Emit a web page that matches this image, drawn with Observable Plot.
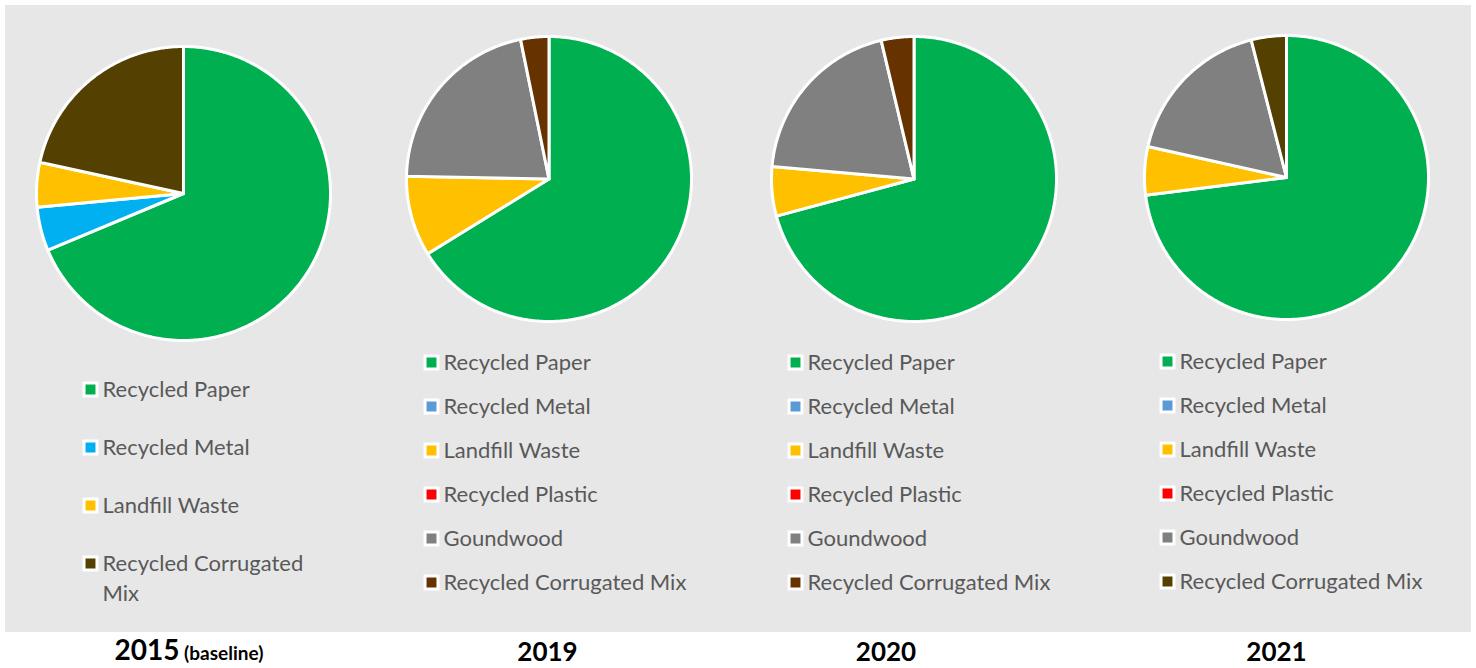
<!DOCTYPE html>
<html>
<head>
<meta charset="utf-8">
<script src="https://cdn.jsdelivr.net/npm/d3@7"></script>
<script src="https://cdn.jsdelivr.net/npm/@observablehq/plot@0.6"></script>
<style>
  body { margin: 0; background: #ffffff; }
  #stage { position: relative; width: 1476px; height: 668px; overflow: hidden; font-family: Lato, "Open Sans", sans-serif; }
  #bg { position: absolute; left: 5px; top: 5px; width: 1466px; height: 627px; background: #e7e7e7; }
  .abs { position: absolute; }
  .label { position: absolute; transform: translateX(-50%); font-weight: 700; color: #000; white-space: nowrap; line-height: 1; }
</style>
</head>
<body>
<div id="stage"><div id="bg"></div></div>
<script>
// ---------- data ----------
const years = ["2015", "2019", "2020", "2021"];
const categories2015 = ["Recycled Paper", "Recycled Metal", "Landfill Waste", "Recycled Corrugated Mix"];
const categoriesLater = ["Recycled Paper", "Recycled Metal", "Landfill Waste", "Recycled Plastic", "Goundwood", "Recycled Corrugated Mix"];

const values2015 = [68.7, 4.8, 4.9, 21.6];
const values2019 = [66.2, 0, 9.1, 0, 21.5, 3.2];
const values2020 = [70.8, 0, 5.6, 0, 19.9, 3.7];
const values2021 = [73.0, 0, 5.5, 0, 17.5, 4.0];

const colors2015 = ["#00b050", "#00b0f0", "#ffc000", "#544000"];
const colors2019 = ["#00b050", "#5b9bd5", "#ffc000", "#ff0000", "#808080", "#663300"];
const colors2020 = ["#00b050", "#5b9bd5", "#ffc000", "#ff0000", "#808080", "#663300"];
const colors2021 = ["#00b050", "#5b9bd5", "#ffc000", "#ff0000", "#808080", "#544000"];

const yearTitles = ["2015", "2019", "2020", "2021"];
const yearNotes = ["(baseline)", "", "", ""];

// ---------- layout ----------
const layout = [
  {cats: categories2015, vals: values2015, cols: colors2015, cx: 182.5, cy: 193.3, r: 147,
   lgLeft: 80, lgTop: 358, lgH: 250, lgMt: 30, lgMb: 45, wrap: true, labX: 189, labTop: 635, labSize: 28},
  {cats: categoriesLater, vals: values2019, cols: colors2019, cx: 548.8, cy: 178.6, r: 142.5,
   lgLeft: 421, lgTop: 338, lgH: 280, lgMt: 22, lgMb: 34, wrap: false, labX: 547.5, labTop: 638, labSize: 26},
  {cats: categoriesLater, vals: values2020, cols: colors2020, cx: 913, cy: 178.4, r: 142.5,
   lgLeft: 785, lgTop: 338, lgH: 280, lgMt: 22, lgMb: 34, wrap: false, labX: 886, labTop: 638, labSize: 26},
  {cats: categoriesLater, vals: values2021, cols: colors2021, cx: 1286, cy: 177.4, r: 142,
   lgLeft: 1156.5, lgTop: 337, lgH: 280, lgMt: 22, lgMb: 34, wrap: false, labX: 1276.5, labTop: 638, labSize: 26}
];

const stage = document.getElementById("stage");
const FS = 22;

function piePlot(cats, vals, cols, R) {
  const arcs = d3.pie().sort(null).value(d => d.value)(cats.map((c, i) => ({category: c, value: vals[i]})));
  const features = arcs.filter(a => a.data.value > 0).map(a => {
    const n = Math.max(2, Math.ceil((a.endAngle - a.startAngle) / (Math.PI / 360)));
    const ring = [[0, 0]];
    for (let k = 0; k <= n; k++) {
      const t = a.startAngle + (a.endAngle - a.startAngle) * k / n;
      ring.push([Math.sin(t), -Math.cos(t)]);
    }
    ring.push([0, 0]);
    return {type: "Feature", properties: {category: a.data.category}, geometry: {type: "Polygon", coordinates: [ring]}};
  });
  const size = 2 * R + 6;
  return Plot.plot({
    width: size, height: size, margin: 0,
    projection: {type: "identity", domain: {type: "MultiPoint", coordinates: [[-1, -1], [1, 1]]}, inset: 3},
    color: {domain: cats, range: cols},
    style: {background: "transparent", overflow: "visible"},
    marks: [
      Plot.geo(features, {fill: d => d.properties.category, stroke: "white", strokeWidth: 3, strokeLinejoin: "round"})
    ]
  });
}

function legendPlot(cats, cols, L) {
  return Plot.plot({
    width: 340, height: L.lgH, marginTop: L.lgMt, marginBottom: L.lgMb, marginLeft: 10, marginRight: 0,
    y: {type: "point", domain: cats, padding: 0, axis: null},
    color: {domain: cats, range: cols},
    style: {background: "transparent", overflow: "visible", fontFamily: "Lato, 'Open Sans', sans-serif", fontSize: FS + "px"},
    marks: [
      Plot.dot(cats, {y: d => d, fill: d => d, frameAnchor: "left", symbol: "square", r: 7.3, stroke: "white", strokeWidth: 3}),
      Plot.text(cats, {y: d => d, text: d => (L.wrap ? d.replace(" Mix", "\nMix") : d), frameAnchor: "left", dx: 12, textAnchor: "start",
        lineAnchor: "top", dy: -0.39 * FS - 5, fill: "#595959", fontSize: FS, lineHeight: 1.36})
    ]
  });
}

layout.forEach((L, i) => {
  const p = piePlot(L.cats, L.vals, L.cols, L.r);
  const size = 2 * L.r + 6;
  p.classList.add("abs");
  p.style.left = (L.cx - size / 2) + "px";
  p.style.top = (L.cy - size / 2) + "px";
  stage.appendChild(p);

  const lg = legendPlot(L.cats, L.cols, L);
  lg.classList.add("abs");
  lg.style.left = L.lgLeft + "px";
  lg.style.top = L.lgTop + "px";
  stage.appendChild(lg);

  const lab = document.createElement("div");
  lab.className = "label";
  lab.style.left = L.labX + "px";
  lab.style.top = L.labTop + "px";
  lab.style.fontSize = L.labSize + "px";
  lab.textContent = yearTitles[i];
  if (yearNotes[i]) {
    const s = document.createElement("span");
    s.style.fontSize = "19px";
    s.textContent = " " + yearNotes[i];
    lab.appendChild(s);
  }
  stage.appendChild(lab);
});
</script>
</body>
</html>
